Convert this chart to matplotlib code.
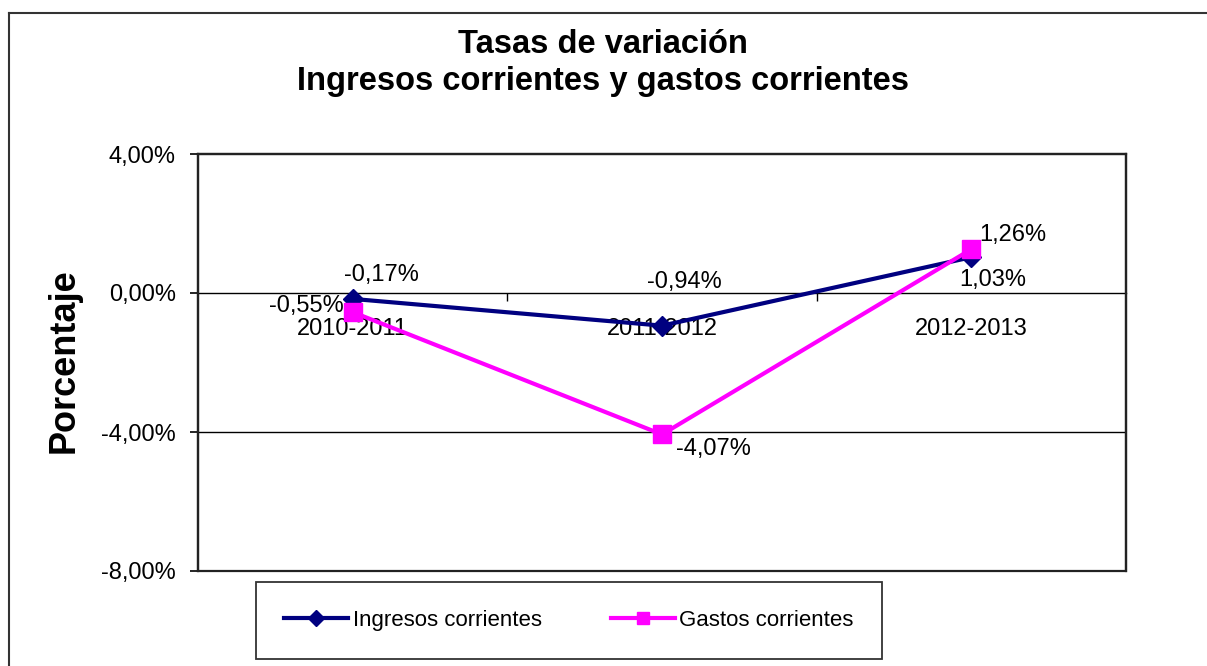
import matplotlib
matplotlib.use("Agg")
import matplotlib.pyplot as plt
from matplotlib.lines import Line2D
from matplotlib.patches import Rectangle
from matplotlib.ticker import FuncFormatter, FixedLocator

plt.rcParams['font.family'] = ['Liberation Sans', 'DejaVu Sans']

categories = ["2010-2011", "2011-2012", "2012-2013"]
ingresos = [-0.17, -0.94, 1.03]
gastos = [-0.55, -4.07, 1.26]
y_ticks = [-8, -4, 0, 4]
title = "Tasas de variación\nIngresos corrientes y gastos corrientes"
ylabel = "Porcentaje"
series_names = ["Ingresos corrientes", "Gastos corrientes"]

# label offsets in pixels (style only)
ing_offsets = [(29, 24), (22, 44), (21, -23)]
gas_offsets = [(-46, 6), (51, -15), (41, 14)]

W, H = 1207, 666
fig = plt.figure(figsize=(W / 100, H / 100), dpi=100)
ax = fig.add_axes([198 / W, 1 - 571 / H, (1126 - 198) / W, (571 - 154) / H])

x = list(range(len(categories)))
NAVY = "#000080"
MAG = "#FF00FF"

ax.plot(x, ingresos, color=NAVY, lw=3, marker="D", markersize=10,
        markerfacecolor=NAVY, markeredgecolor=NAVY, zorder=4, label=series_names[0])
ax.plot(x, gastos, color=MAG, lw=3, marker="s", markersize=13,
        markerfacecolor=MAG, markeredgecolor=MAG, zorder=5, label=series_names[1])

def fmt(v):
    return ("%.2f" % v).replace(".", ",") + "%"

for xi, v, off in zip(x, ingresos, ing_offsets):
    ax.annotate(fmt(v), (xi, v), xytext=off, textcoords="offset pixels",
                ha="center", va="center", fontsize=17, color="black", zorder=6)
for xi, v, off in zip(x, gastos, gas_offsets):
    ax.annotate(fmt(v), (xi, v), xytext=off, textcoords="offset pixels",
                ha="center", va="center", fontsize=17, color="black", zorder=6)

ax.set_xlim(-0.5, len(categories) - 0.5)
ax.set_ylim(y_ticks[0], y_ticks[-1])

# gridline at -4 and axis line at 0
ax.axhline(-4, color="black", lw=1, zorder=1)

ax.yaxis.set_major_locator(FixedLocator(y_ticks))
ax.yaxis.set_major_formatter(FuncFormatter(lambda v, p: fmt(v)))
ax.tick_params(axis="y", direction="out", length=6, width=1.2, pad=10, labelsize=17)

# x axis crossing at zero
ax.spines["bottom"].set_position(("data", 0))
ax.spines["bottom"].set_linewidth(1)
ax.spines["bottom"].set_zorder(1)
ax.set_xticks(x)
ax.set_xticklabels(categories)
ax.set_xticks([0.5, 1.5], minor=True)
ax.tick_params(axis="x", which="major", length=0, pad=18, labelsize=17)
ax.tick_params(axis="x", which="minor", direction="out", length=6, width=1)
for lab in ax.get_xticklabels():
    lab.set_zorder(3)

for s in ["top", "right", "left"]:
    ax.spines[s].set_color("#222222")
    ax.spines[s].set_linewidth(1.6)
ax.add_patch(Rectangle((0, 0), 1, 1, transform=ax.transAxes, fill=False,
                       edgecolor="#222222", lw=1.6, clip_on=False, zorder=0))

ax.set_ylabel(ylabel, fontsize=26, fontweight="bold", labelpad=0)
ax.yaxis.set_label_coords((82 - 198) / (1126 - 198), (571 - 361) / (571 - 154))

fig.text(603 / W, 1 - 63 / H, title, ha="center", va="center", fontsize=23.5,
         fontweight="bold", linespacing=1.25)

# outer chart frame
fig.add_artist(Line2D([9 / W, 9 / W], [0, 1 - 13 / H], color="#333333", lw=1.5))
fig.add_artist(Line2D([9 / W, 1], [1 - 13 / H, 1 - 13 / H], color="#333333", lw=1.5))

handles = [
    Line2D([], [], color=NAVY, lw=3, marker="D", markersize=8, markerfacecolor=NAVY),
    Line2D([], [], color=MAG, lw=3, marker="s", markersize=9, markerfacecolor=MAG),
]
leg = fig.legend(handles, series_names, loc="upper left",
                 bbox_to_anchor=(256 / W, 1 - 582 / H), ncol=2, fontsize=16,
                 frameon=True, fancybox=False, shadow=False, edgecolor="black",
                 handlelength=2.9, handletextpad=0.2, columnspacing=3.1,
                 borderpad=1.25, borderaxespad=0)
leg.get_frame().set_linewidth(1.3)

fig.savefig("out.png", dpi=100)
